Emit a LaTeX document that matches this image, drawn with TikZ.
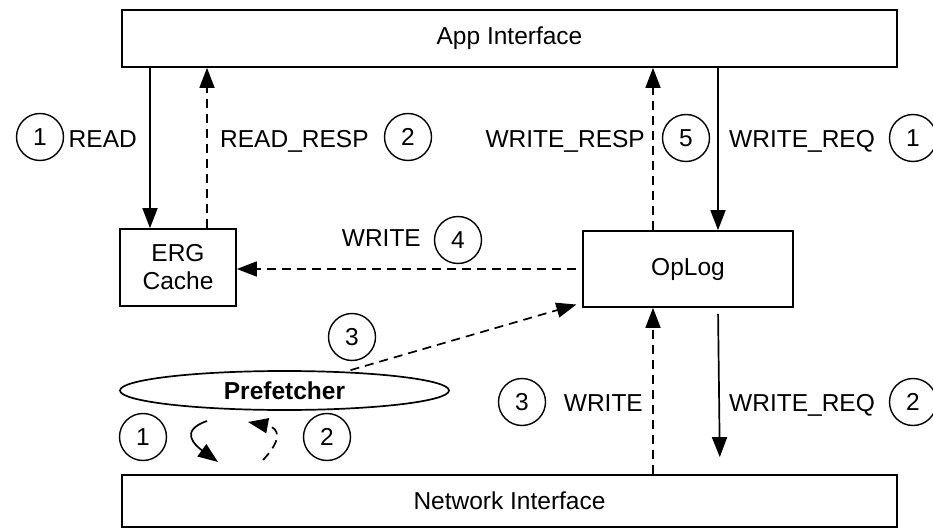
\documentclass[tikz,border=0pt]{standalone}
\usepackage{fontspec}
\setmainfont{Liberation Sans}
\usetikzlibrary{arrows.meta,shapes.geometric}
\tikzset{
	box/.style={draw,line width=1.7pt,inner sep=0pt,align=center},
	num/.style={draw,circle,line width=1.4pt,minimum size=47pt,inner sep=0pt},
	lbl/.style={inner sep=0pt},
	flow/.style={line width=1.7pt,-{Triangle[length=20pt,width=15pt]}},
	back/.style={flow,dash pattern=on 9pt off 6pt}
}
\begin{document}
\begin{tikzpicture}[x=1pt,y=-1pt,font=\fontsize{24.5}{28}\selectfont]
	\useasboundingbox (0,0) rectangle (933,529);
	\node[box,minimum width=775pt,minimum height=57pt] (app) at (509.5,38.5) {App Interface};
	\node[box,minimum width=775pt,minimum height=52pt] (net) at (509.5,501) {Network Interface};
	\node[box,minimum width=116pt,minimum height=77pt] (erg) at (178,267.5) {ERG\\Cache};
	\node[box,minimum width=210pt,minimum height=76pt] (oplog) at (688,269) {OpLog};
	\node[draw,ellipse,line width=1.7pt,minimum width=329pt,minimum height=39pt,inner sep=0pt] (pref) at (284.5,390.5) {\bfseries Prefetcher};
	\coordinate (readx) at (150,0);
	\coordinate (respx) at (207,0);
	\coordinate (wrespx) at (653,0);
	\coordinate (wreqx) at (718,0);
	\coordinate (wreqy) at (720,0);
	\coordinate (fa) at (207,421);
	\coordinate (fb) at (218,462);
	\coordinate (fc) at (263,460);
	\coordinate (fd) at (248,422);
	\draw[flow] (readx |- app.south) -- (readx |- erg.north);
	\draw[back] (respx |- erg.north) -- (respx |- app.south);
	\draw[back] (wrespx |- oplog.north) -- (wrespx |- app.south);
	\draw[flow] (wreqx |- app.south) -- (wreqx |- oplog.north);
	\draw[back,shorten <=6pt] (oplog.west) -- (oplog.west -| erg.east);
	\draw[back,shorten >=6pt] ([xshift=66pt]pref.north) -- ([yshift=5pt]oplog.south west);
	\draw[back] (wrespx |- net.north) -- (wrespx |- oplog.south);
	\draw[flow,shorten <=6pt,shorten >=17pt] (wreqx |- oplog.south) -- (wreqy |- net.north);
	\draw[flow] (fa) .. controls (178,431) and (196,446) .. (fb);
	\draw[back] (fc) .. controls (282,440) and (280,428) .. (fd);
	\node[lbl,anchor=base east] (lread) at (137,148) {READ};
	\node[num] (n1a) at (40,137) {1};
	\node[lbl,anchor=base west] (lresp) at (220,148) {READ\_RESP};
	\node[num] (n2a) at (408,137) {2};
	\node[lbl,anchor=base east] (lwresp) at (645,148) {WRITE\_RESP};
	\node[num] (n5) at (686,138) {5};
	\node[lbl,anchor=base west] (lwreq) at (729,148) {WRITE\_REQ};
	\node[num] (n1b) at (913,138) {1};
	\node[lbl,anchor=base east] (lwrite) at (421,246) {WRITE};
	\node[num] (n4) at (458,240) {4};
	\node[num] (n3a) at (352,337) {3};
	\node[num] (n3b) at (522,402) {3};
	\node[lbl,anchor=base east] (lwrite2) at (643,411) {WRITE};
	\node[lbl,anchor=base west] (lwreq2) at (729,411) {WRITE\_REQ};
	\node[num] (n2b) at (913,402) {2};
	\node[num] (n1c) at (143,437) {1};
	\node[num] (n2c) at (327,437) {2};
\end{tikzpicture}
\end{document}
